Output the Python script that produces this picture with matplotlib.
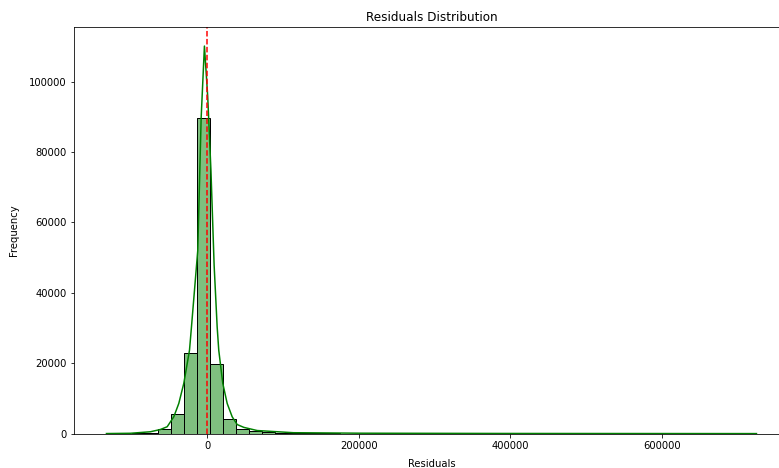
import numpy as np
import matplotlib
matplotlib.use("Agg")
import matplotlib.pyplot as plt

# histogram of residuals: 50 equal bins between the smallest and largest residual
res_min = -132800
res_max = 724400
bin_counts = [10, 30, 90, 300, 1400, 5650, 22780, 89600, 19660, 4240,
              1400, 850, 560, 230, 140, 95, 72, 58, 48, 40,
              34, 29, 25, 22, 19, 17, 15, 13, 12, 11,
              10, 9, 8, 7, 6, 6, 5, 5, 4, 4,
              3, 3, 3, 2, 2, 2, 1, 1, 1, 1]

# kde curve (scaled to counts)
kde_x = [-132800, -101100, -74800, -61600, -52700, -44000, -37400, -30800,
         -23300, -20700, -12400, -7900, -3600, 700, 5000, 9200, 13200,
         15300, 20600, 26400, 33000, 39600, 48300, 65900, 113800, 202200,
         386800, 724400]
kde_y = [40, 120, 550, 1200, 1980, 4800, 8600, 14300,
         23700, 30300, 52000, 89800, 110100, 95900, 74700, 47800, 30300,
         23700, 14300, 8600, 4800, 2600, 1800, 900, 280, 140,
         70, 30]

edges = np.linspace(res_min, res_max, len(bin_counts) + 1)

fig = plt.figure(figsize=(779 / 72, 468 / 72), dpi=72)
ax = fig.add_axes([74 / 779, 34.3 / 468, 715 / 779, 407 / 468])

ax.bar(edges[:-1], bin_counts, width=np.diff(edges), align='edge',
       color='green', alpha=0.5, edgecolor='none')
ax.bar(edges[:-1], bin_counts, width=np.diff(edges), align='edge',
       facecolor='none', edgecolor='black', linewidth=1)
ax.plot(kde_x, kde_y, color='green', linewidth=1.5)
ax.axvline(0, color='red', linestyle='--', linewidth=1.5)

ax.set_title("Residuals Distribution", size=12)
ax.set_xlabel("Residuals", size=10, labelpad=8)
ax.set_ylabel("Frequency", size=10, labelpad=10)
ax.set_xticks([0, 200000, 400000, 600000])
ax.set_yticks([0, 20000, 40000, 60000, 80000, 100000])
ax.set_xlim(-175600, 767300)
ax.set_ylim(0, 115600)

fig.savefig("out.png", dpi=72)
